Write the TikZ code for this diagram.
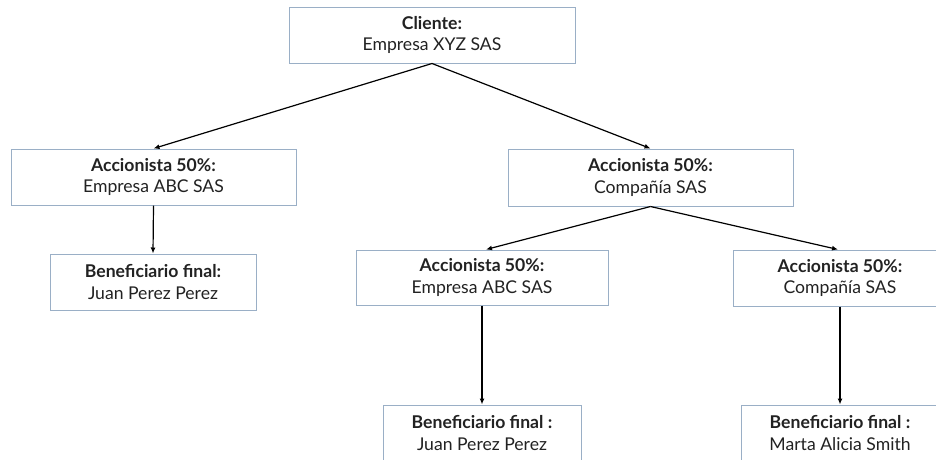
\documentclass[tikz,border=0pt]{standalone}
\usepackage{fontspec}
\setmainfont{Lato}
\usetikzlibrary{arrows.meta}
\definecolor{boxc}{HTML}{9AAFC6}
\definecolor{txtc}{HTML}{222222}
\tikzset{
  box/.style={draw=boxc, line width=1pt, fill=white, align=center, inner sep=0pt,
    font=\fontsize{17.6}{21.5}\selectfont, text=txtc},
  conn/.style={draw=black, line width=1.2pt, -{Latex[length=6pt,width=5pt]}}
}
\begin{document}
\begin{tikzpicture}[x=1pt,y=-1pt]
\useasboundingbox (0,0) rectangle (936,459);
\clip (0,0) rectangle (936,459);
\node[box, minimum width=286pt, minimum height=56pt] (cli) at (432,35) {\textbf{Cliente:}\\Empresa XYZ SAS};
\node[box, minimum width=285pt, minimum height=56pt] (a1) at (153.5,177) {\textbf{Accionista 50\%:}\\Empresa ABC SAS};
\node[box, minimum width=285pt, minimum height=57pt] (a2) at (650.5,177.5) {\textbf{Accionista 50\%:}\\Compañía SAS};
\node[box, minimum width=206pt, minimum height=56pt] (b1) at (153,282) {\textbf{Beneficiario final:}\\Juan Perez Perez};
\node[box, minimum width=252pt, minimum height=55pt] (a3) at (482,277.5) {\textbf{Accionista 50\%:}\\Empresa ABC SAS};
\node[box, minimum width=214pt, minimum height=56pt] (a4) at (840,278) {\textbf{Accionista 50\%:}\\Compañía SAS};
\node[box, minimum width=198pt, minimum height=56pt] (b2) at (482,433) {\textbf{Beneficiario final :}\\Juan Perez Perez};
\node[box, minimum width=198pt, minimum height=56pt] (b3) at (840,433) {\textbf{Beneficiario final :}\\Marta Alicia Smith};
\draw[conn] (cli.south) -- (a1.north);
\draw[conn] (cli.south) -- (a2.north);
\draw[conn] (a1.south) -- (b1.north);
\draw[conn] (a2.south) -- ([xshift=4pt]a3.north);
\draw[conn] (a2.south) -- ([xshift=-2pt]a4.north);
\draw[conn] (a3.south) -- (b2.north);
\draw[conn] (a4.south) -- (b3.north);
\end{tikzpicture}
\end{document}
